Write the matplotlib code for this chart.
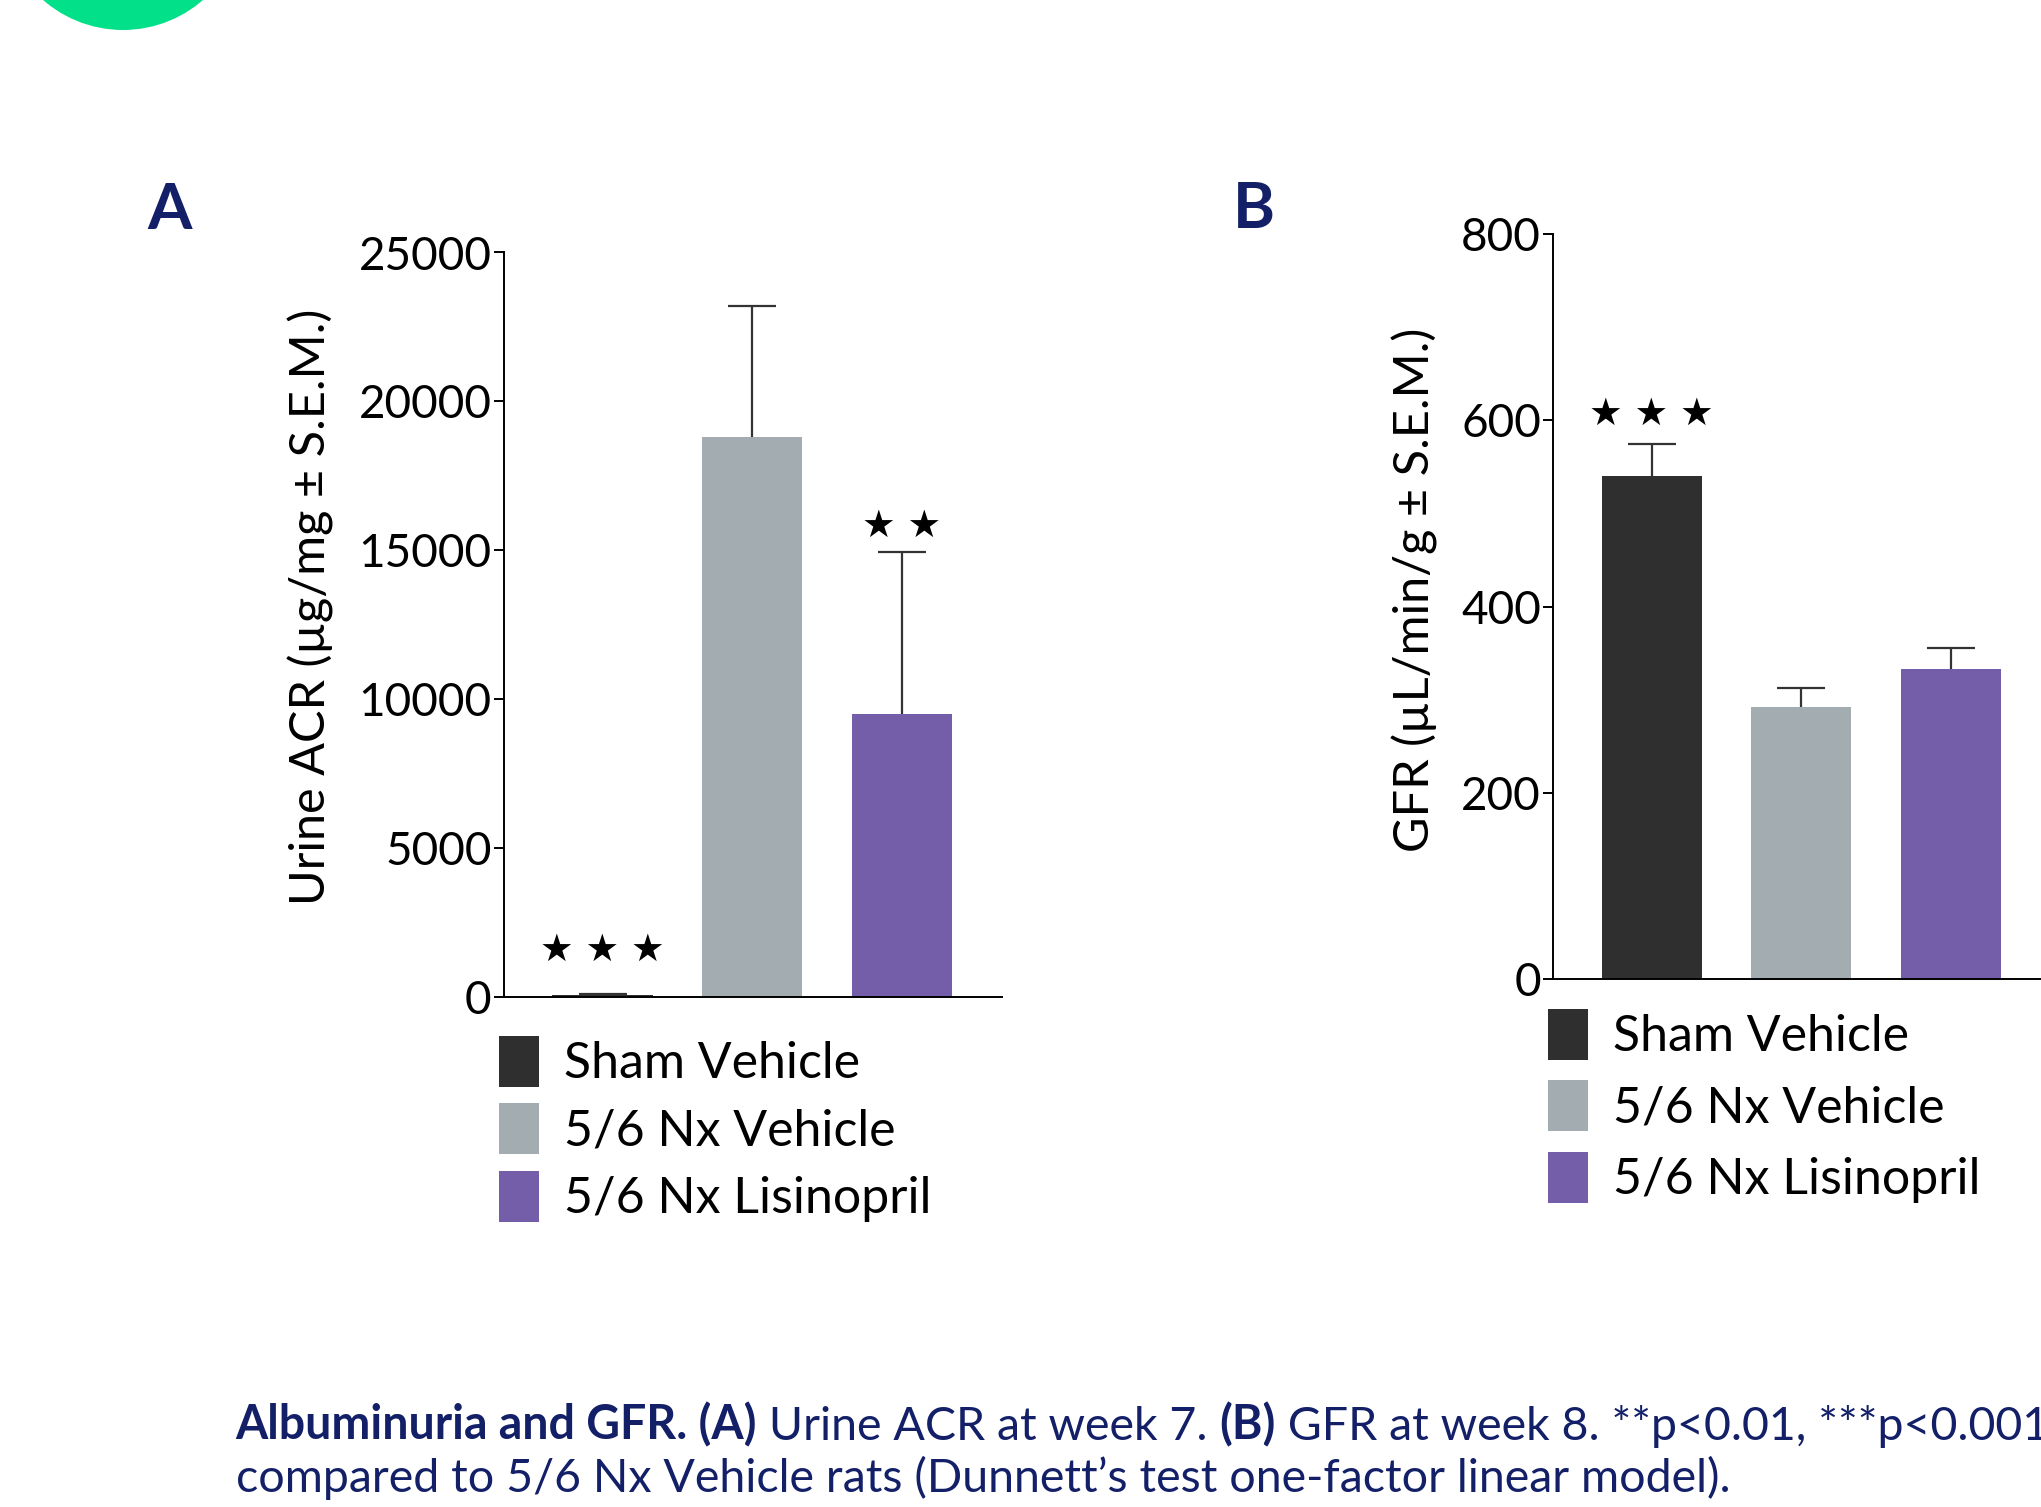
import matplotlib
matplotlib.use("Agg")
import matplotlib.pyplot as plt
from matplotlib.patches import Patch, Circle
import numpy as np

# ---------------- data ----------------
groups = ["Sham Vehicle", "5/6 Nx Vehicle", "5/6 Nx Lisinopril"]
colors = ["#2f2f2f", "#a3acb1", "#745eaa"]

acr_mean = [60, 18800, 9500]
acr_sem = [40, 4400, 5450]
acr_sig = ["***", "", "**"]
acr_yticks = [0, 5000, 10000, 15000, 20000, 25000]

gfr_mean = [540, 292, 333]
gfr_sem = [35, 21, 22]
gfr_sig = ["***", "", ""]
gfr_yticks = [0, 200, 400, 600, 800]

acr_ylabel = "Urine ACR (µg/mg ± S.E.M.)"
gfr_ylabel = "GFR (µL/min/g ± S.E.M.)"

caption1 = [("Albuminuria and GFR. (A)", "bold"), (" Urine ACR at week 7. ", "normal"),
            ("(B)", "bold"), (" GFR at week 8. **p<0.01, ***p<0.001", "normal")]
caption2 = "compared to 5/6 Nx Vehicle rats (Dunnett\u2019s test one-factor linear model)."

# ---------------- style ----------------
plt.rcParams['font.family'] = ['Lato', 'DejaVu Sans']
NAVY = "#132068"
W, H = 2041, 1507
fig = plt.figure(figsize=(W / 100, H / 100), dpi=100)

# decorative green circle (top-left)
fig.add_artist(Circle((1.23, (H + 91.7) / 100), 1.217, transform=fig.dpi_scale_trans,
                      facecolor="#03e08a", edgecolor="none"))


def px_axes(left, top, right, bottom):
    return [left / W, 1 - bottom / H, (right - left) / W, (bottom - top) / H]


def panel(ax, means, sems, sigs, yticks, ylabel, label_xy, sig_offsets):
    x = np.arange(len(groups))
    ax.bar(x, means, width=0.67, color=colors, zorder=2)
    eb = ax.errorbar(x, means, yerr=[np.zeros(len(x)), sems], fmt='none', ecolor='#333333',
                     elinewidth=1.6, capsize=17, capthick=1.6, zorder=3)
    # keep only the upper caps
    for cap in eb[1]:
        if np.allclose(cap.get_ydata(), means):
            cap.set_visible(False)
    for xi, m, s, sig, off in zip(x, means, sems, sigs, sig_offsets):
        if sig:
            ax.annotate(" ".join("\u2605" * len(sig)), xy=(xi, m + s), xytext=(0, off),
                        textcoords='offset points', ha='center', va='center',
                        fontsize=27, family='DejaVu Sans', color='black')
    ax.set_xlim(-0.66, 2.67)
    ax.set_ylim(yticks[0], yticks[-1])
    ax.set_yticks(yticks)
    ax.set_xticks([])
    for sp in ['top', 'right']:
        ax.spines[sp].set_visible(False)
    for sp in ['left', 'bottom']:
        ax.spines[sp].set_linewidth(1.4)
    ax.tick_params(axis='y', length=7.2, width=1.4, pad=1.5, labelsize=33)
    ax.set_ylabel(ylabel, fontsize=35)
    ax.yaxis.set_label_coords(*label_xy)
    ax.patch.set_alpha(0)


axA = fig.add_axes(px_axes(503.8, 252.5, 1002.3, 997.1))
panel(axA, acr_mean, acr_sem, acr_sig, acr_yticks, acr_ylabel, (-0.34, 0.524), [31, 0, 18])

axB = fig.add_axes(px_axes(1553, 234.3, 2051, 978.9))
panel(axB, gfr_mean, gfr_sem, gfr_sig, gfr_yticks, gfr_ylabel, (-0.231, 0.523), [21, 0, 0])

handles = [Patch(facecolor=c, edgecolor='none') for c in colors]
for (lx, ly, spacing) in [(498.5, 1036, 0.32), (1548, 1009, 0.40)]:
    fig.legend(handles, groups, loc='upper left', bbox_to_anchor=(lx / W, 1 - ly / H),
               bbox_transform=fig.transFigure, frameon=False, fontsize=36,
               handlelength=0.8, handleheight=1.19, handletextpad=0.5,
               labelspacing=spacing, borderpad=0, borderaxespad=0)

# panel letters
fig.text(147 / W, 1 - 229 / H, "A", fontsize=46, fontweight='bold', color=NAVY, va='baseline')
fig.text(1233 / W, 1 - 227.8 / H, "B", fontsize=46, fontweight='bold', color=NAVY, va='baseline')

# caption (the reference crops the end of the first line at the right edge)
renderer = fig.canvas.get_renderer()
x0 = 235.6
xpos = x0
for s, wt in caption1:
    t = fig.text(xpos / W, 1 - 1439.6 / H, s, fontsize=33.5, fontweight=wt, color=NAVY, va='baseline')
    bb = t.get_window_extent(renderer)
    xpos = bb.x1
fig.text(x0 / W, 1 - 1491.8 / H, caption2, fontsize=33.5, color=NAVY, va='baseline')

fig.savefig("out.png", dpi=100)
